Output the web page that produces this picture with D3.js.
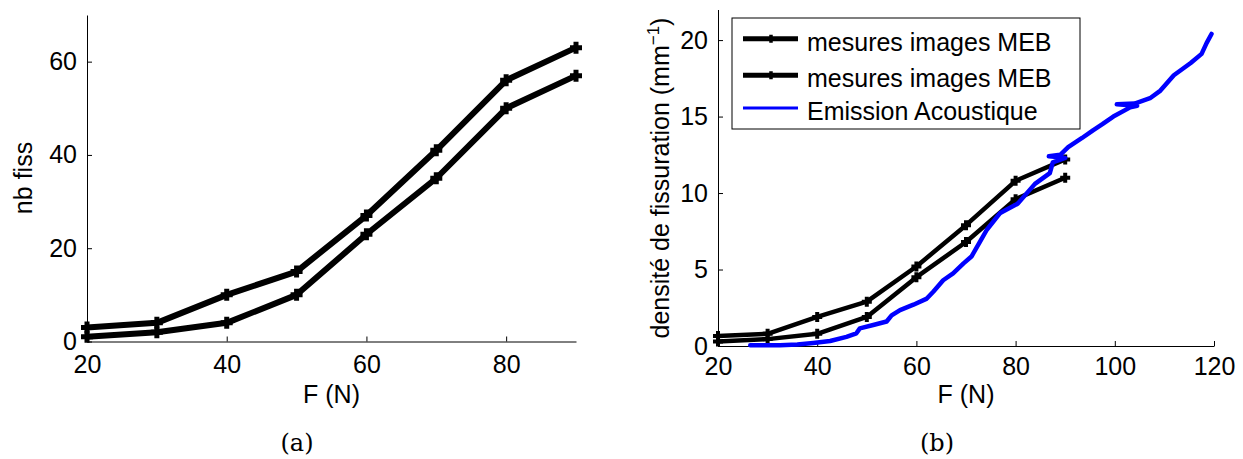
<!DOCTYPE html>
<html>
<head>
<meta charset="utf-8">
<script src="https://cdn.jsdelivr.net/npm/d3@7"></script>
<style>
  html, body { margin: 0; padding: 0; background: #fff; }
  svg { display: block; }
</style>
</head>
<body>
<svg id="chart" width="1243" height="459"></svg>
<script>
// ---------- data ----------
const forces = [20, 30, 40, 50, 60, 70, 80, 90];
const nbFissHaut = [3, 4, 10, 15, 27, 41, 56, 63];
const nbFissBas = [1, 2, 4, 10, 23, 35, 50, 57];
const densiteHaut = [0.65, 0.8, 1.9, 2.9, 5.2, 7.9, 10.8, 12.2];
const densiteBas = [0.3, 0.45, 0.8, 1.9, 4.5, 6.8, 9.6, 11.0];

const eaForce = [26.5, 32.5, 36, 39.2, 42.6, 45.9, 47.9, 48.6, 51.3, 54.0, 55.0, 56.7, 59.4, 62.1, 63.4, 65.4, 67.4, 69.5, 71.1, 72.8, 74.2, 76.9, 80.4, 83.9, 86.9, 87.5, 90.0, 86.7, 89.0, 90.6, 93.4, 95.6, 97.5, 99.7, 103.1, 104.5, 100.4, 104.0, 107.1, 109.2, 111.9, 115.3, 117.5, 118.5, 119.5];
const eaDensite = [0.05, 0.05, 0.1, 0.2, 0.33, 0.6, 0.83, 1.15, 1.37, 1.6, 2.0, 2.35, 2.7, 3.1, 3.55, 4.3, 4.75, 5.4, 5.85, 6.8, 7.6, 8.7, 9.3, 10.6, 11.3, 12.0, 12.3, 12.4, 12.5, 13.0, 13.6, 14.1, 14.5, 15.0, 15.6, 15.7, 15.8, 15.85, 16.2, 16.7, 17.7, 18.5, 19.1, 19.8, 20.4];

const ticksAX = [20, 40, 60, 80];
const ticksAY = [0, 20, 40, 60];
const ticksBX = [20, 40, 60, 80, 100, 120];
const ticksBY = [0, 5, 10, 15, 20];
const legendLabels = ["mesures images MEB", "mesures images MEB", "Emission Acoustique"];

// ---------- setup ----------
const svg = d3.select("#chart");
svg.append("rect").attr("width", 1243).attr("height", 459).attr("fill", "#fff");
const FONT = "'Liberation Sans', Arial, Helvetica, sans-serif";

function styleAxis(g) {
  g.attr("font-family", FONT).attr("font-size", 25);
  g.selectAll("path.domain").attr("stroke", "#000").attr("stroke-width", 1);
  g.selectAll(".tick line").attr("stroke", "#000").attr("stroke-width", 1);
  g.selectAll(".tick text").attr("fill", "#000");
}

const plus = s => `M${-s},0H${s}M0,${-s}V${s}`;

// ---------- panel (a) ----------
const xa = d3.scaleLinear().domain([20, 90]).range([87, 576]);
const ya = d3.scaleLinear().domain([0, 70]).range([341.5, 15]);

svg.append("g").attr("transform", "translate(0,341.5)")
  .call(d3.axisBottom(xa).tickValues(ticksAX).tickSize(-5).tickSizeOuter(0).tickPadding(14).tickFormat(d3.format("d")))
  .call(styleAxis);
svg.append("g").attr("transform", "translate(87,0)")
  .call(d3.axisLeft(ya).tickValues(ticksAY).tickSize(-5).tickSizeOuter(0).tickPadding(10).tickFormat(d3.format("d")))
  .call(styleAxis);

const lineA = d3.line().x(d => xa(d[0])).y(d => ya(d[1]));
[nbFissHaut, nbFissBas].forEach(vals => {
  const pts = forces.map((f, i) => [f, vals[i]]);
  svg.append("path").attr("d", lineA(pts)).attr("fill", "none")
    .attr("stroke", "#000").attr("stroke-width", 6).attr("stroke-linejoin", "round");
  svg.append("g").selectAll("path").data(pts).join("path")
    .attr("transform", d => `translate(${xa(d[0])},${ya(d[1])})`)
    .attr("d", plus(6)).attr("stroke", "#000").attr("stroke-width", 5);
});

svg.append("text").attr("x", 331.5).attr("y", 403).attr("text-anchor", "middle")
  .attr("font-family", FONT).attr("font-size", 25).text("F (N)");
svg.append("text").attr("transform", "translate(32,178) rotate(-90)").attr("text-anchor", "middle")
  .attr("font-family", FONT).attr("font-size", 25).text("nb fiss");

// ---------- panel (b) ----------
const xb = d3.scaleLinear().domain([20, 120]).range([718, 1214]);
const yb = d3.scaleLinear().domain([0, 22]).range([346, 9.5]);

svg.append("g").attr("transform", "translate(0,346)")
  .call(d3.axisBottom(xb).tickValues(ticksBX).tickSize(-5).tickSizeOuter(0).tickPadding(11).tickFormat(d3.format("d")))
  .call(styleAxis);
svg.append("g").attr("transform", "translate(718,0)")
  .call(d3.axisLeft(yb).tickValues(ticksBY).tickSize(-5).tickSizeOuter(0).tickPadding(10).tickFormat(d3.format("d")))
  .call(styleAxis);

const lineB = d3.line().x(d => xb(d[0])).y(d => yb(d[1]));
[densiteHaut, densiteBas].forEach(vals => {
  const pts = forces.map((f, i) => [f, vals[i]]);
  svg.append("path").attr("d", lineB(pts)).attr("fill", "none")
    .attr("stroke", "#000").attr("stroke-width", 4.5).attr("stroke-linejoin", "round");
  svg.append("g").selectAll("path").data(pts).join("path")
    .attr("transform", d => `translate(${xb(d[0])},${yb(d[1])})`)
    .attr("d", plus(5)).attr("stroke", "#000").attr("stroke-width", 4);
});

const eaPts = eaForce.map((f, i) => [f, eaDensite[i]]);
svg.append("path").attr("d", lineB(eaPts)).attr("fill", "none")
  .attr("stroke", "#0000ff").attr("stroke-width", 4.5).attr("stroke-linejoin", "round").attr("stroke-linecap", "round");

svg.append("text").attr("x", 966).attr("y", 403).attr("text-anchor", "middle")
  .attr("font-family", FONT).attr("font-size", 25).text("F (N)");
const yl = svg.append("text").attr("transform", "translate(669,178) rotate(-90)").attr("text-anchor", "middle")
  .attr("font-family", FONT).attr("font-size", 25);
yl.append("tspan").text("densité de fissuration (mm");
yl.append("tspan").attr("font-size", 17).attr("dy", -10).text("−1");
yl.append("tspan").attr("dy", 10).text(")");

// legend
const lg = svg.append("g");
lg.append("rect").attr("x", 732).attr("y", 18).attr("width", 348).attr("height", 111)
  .attr("fill", "#fff").attr("stroke", "#000").attr("stroke-width", 1);
const rowY = [38.7, 75.3, 108];
legendLabels.forEach((lab, i) => {
  const blue = i === 2;
  lg.append("line").attr("x1", 743).attr("x2", 798).attr("y1", rowY[i]).attr("y2", rowY[i])
    .attr("stroke", blue ? "#0000ff" : "#000").attr("stroke-width", blue ? 3 : 5);
  if (!blue) {
    lg.append("path").attr("transform", `translate(771,${rowY[i]})`).attr("d", plus(4))
      .attr("stroke", "#000").attr("stroke-width", 3.5);
  }
  lg.append("text").attr("x", 807).attr("y", rowY[i] + 12).attr("font-family", FONT)
    .attr("font-size", 25).text(lab);
});

// captions
const SERIF = "'DejaVu Serif', 'Liberation Serif', serif";
svg.append("text").attr("x", 297).attr("y", 451).attr("text-anchor", "middle")
  .attr("font-family", SERIF).attr("font-size", 24).text("(a)");
svg.append("text").attr("x", 937).attr("y", 451).attr("text-anchor", "middle")
  .attr("font-family", SERIF).attr("font-size", 24).text("(b)");
</script>
</body>
</html>
